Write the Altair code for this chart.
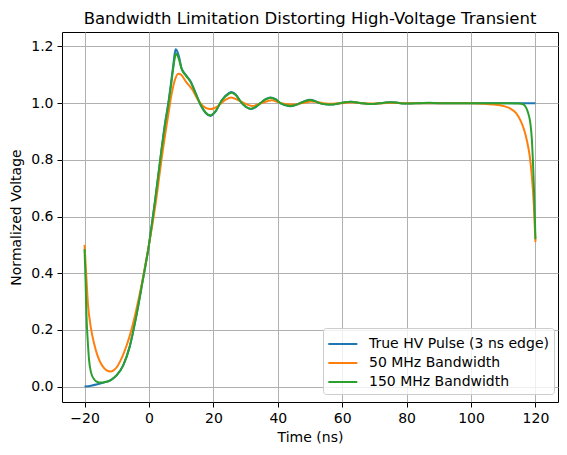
import altair as alt
import pandas as pd

SERIES = ["True HV Pulse (3 ns edge)", "50 MHz Bandwidth", "150 MHz Bandwidth"]
COLORS = ["#1f77b4", "#ff7f0e", "#2ca02c"]

true_t = [-20, -18, -16, -14, -12, -10, -8, -6, -4, -2, 0, 1, 2, 3, 4, 5, 6, 7, 7.5, 8,
          8.3, 8.7, 9.3, 10.1, 11.4, 12.9, 14.5, 16, 17.6, 19.1, 20.7, 22.7, 24.8, 25.5, 27,
          28.4, 30, 31.5, 33, 34.6, 36.2, 37.7, 39.3, 40.8, 42.4, 44, 45.5, 47, 48.5, 50,
          51.5, 53, 54.8, 56.5, 58, 59.5, 61, 62.5, 64, 66, 67.5, 69, 70.5, 72, 73.5, 75,
          76.5, 78, 80, 81.5, 84, 90, 100, 110, 120]
true_v = [0.000, 0.003, 0.008, 0.014, 0.022, 0.040, 0.075, 0.140, 0.245, 0.370, 0.500, 0.580,
          0.665, 0.755, 0.845, 0.930, 1.000, 1.085, 1.130, 1.175, 1.190, 1.185, 1.165, 1.124,
          1.100, 1.077, 1.035, 0.994, 0.965, 0.955, 0.971, 1.012, 1.035, 1.039, 1.030, 1.006,
          0.987, 0.979, 0.985, 1.000, 1.014, 1.020, 1.014, 1.000, 0.992, 0.989, 0.993, 1.000,
          1.008, 1.012, 1.008, 1.000, 0.996, 0.995, 0.997, 1.000, 1.003, 1.005, 1.003, 1.000,
          0.998, 0.997, 0.998, 1.000, 1.002, 1.003, 1.002, 1.000, 0.999, 0.999, 1.000, 1.000,
          1.000, 1.000, 1.000]

bw50_t = [-20, -19.5, -19, -18, -17, -16, -15, -14, -13, -12, -11, -10, -9, -8, -7, -6, -5,
          -4, -3, -2, -1, 0, 2, 4, 6, 7, 8, 9.1, 10, 11.4, 13.5, 15.5, 17.6, 19.1, 21.2, 23.8,
          25.5, 27.5, 29.5, 32, 35, 38, 41, 44.5, 47.5, 50.5, 54, 57, 60, 63, 66, 70, 75, 80,
          90, 100, 104, 107, 110, 112, 114, 115.3, 116.5, 117.3, 118.2, 118.9, 119.5, 120]
bw50_v = [0.500, 0.400, 0.300, 0.205, 0.150, 0.110, 0.083, 0.066, 0.056, 0.053, 0.057, 0.068,
          0.088, 0.113, 0.143, 0.178, 0.220, 0.268, 0.320, 0.375, 0.437, 0.500, 0.640, 0.810,
          0.960, 1.030, 1.080, 1.104, 1.100, 1.077, 1.047, 1.006, 0.983, 0.979, 0.988, 1.012,
          1.020, 1.012, 1.000, 0.990, 1.000, 1.010, 1.000, 0.995, 1.000, 1.006, 1.000, 0.998,
          1.000, 1.003, 1.000, 0.999, 1.001, 1.000, 1.000, 1.000, 0.998, 0.995, 0.990, 0.982,
          0.965, 0.940, 0.905, 0.870, 0.815, 0.740, 0.640, 0.510]

bw150_t = [-20, -19.7, -19.4, -19, -18.6, -18, -17, -16, -15, -14, -12, -10, -8, -6, -4, -2,
           0, 1, 2, 3, 4, 5, 6, 7, 7.5, 8, 8.4, 8.8, 9.3, 10.1, 11.4, 12.9, 14.5, 16, 17.6,
           19.1, 20.7, 22.7, 24.8, 25.5, 27, 28.4, 30, 31.5, 33, 34.6, 36.2, 37.7, 39.3, 40.8,
           42.4, 44, 45.5, 47, 48.5, 50, 51.5, 53, 54.8, 56.5, 58, 59.5, 61, 62.5, 64, 66,
           67.5, 69, 70.5, 72, 73.5, 75, 76.5, 78, 80, 84, 87, 90, 100, 110, 115, 116, 116.8,
           117.6, 118.4, 118.9, 119.2, 119.6, 120]
bw150_v = [0.485, 0.380, 0.250, 0.160, 0.094, 0.050, 0.025, 0.016, 0.014, 0.015, 0.022, 0.040,
           0.075, 0.140, 0.245, 0.370, 0.500, 0.580, 0.665, 0.755, 0.845, 0.925, 0.995, 1.075,
           1.120, 1.158, 1.175, 1.170, 1.155, 1.122, 1.098, 1.075, 1.034, 0.995, 0.967, 0.957,
           0.972, 1.011, 1.033, 1.037, 1.028, 1.006, 0.988, 0.980, 0.986, 1.000, 1.013, 1.019,
           1.013, 1.000, 0.993, 0.990, 0.994, 1.000, 1.007, 1.011, 1.007, 1.000, 0.996, 0.995,
           0.997, 1.000, 1.003, 1.005, 1.003, 1.000, 0.998, 0.997, 0.998, 1.000, 1.002, 1.003,
           1.002, 1.000, 0.999, 1.000, 1.001, 1.000, 1.000, 1.000, 0.999, 0.997, 0.990, 0.970,
           0.930, 0.870, 0.800, 0.680, 0.520]

x_ticks = [-20, 0, 20, 40, 60, 80, 100, 120]
y_ticks = [0.0, 0.2, 0.4, 0.6, 0.8, 1.0, 1.2]

frames = []
for name, ts, vs in [(SERIES[0], true_t, true_v), (SERIES[1], bw50_t, bw50_v), (SERIES[2], bw150_t, bw150_v)]:
    frames.append(pd.DataFrame({"t": ts, "v": vs, "series": name}))
df = pd.concat(frames, ignore_index=True)

FONT = "DejaVu Sans"

base = alt.Chart(df).mark_line(strokeWidth=2, interpolate="monotone").encode(
    x=alt.X("t:Q", scale=alt.Scale(domain=[-27, 127], nice=False, zero=False),
            axis=alt.Axis(values=x_ticks, title="Time (ns)", format="d")),
    y=alt.Y("v:Q", scale=alt.Scale(domain=[-0.0545, 1.251], nice=False, zero=False),
            axis=alt.Axis(values=y_ticks, title="Normalized Voltage", format=".1f")),
    color=alt.Color("series:N", scale=alt.Scale(domain=SERIES, range=COLORS),
                    legend=alt.Legend(title=None, orient="none", legendX=261, legendY=296,
                                      symbolType="M-1.07,0L1.83,0", symbolSize=400,
                                      symbolStrokeWidth=2, symbolFillColor="transparent",
                                      labelFontSize=14, labelFont=FONT, labelColor="black",
                                      labelLimit=400,
                                      fillColor="rgba(255,255,255,0.8)", strokeColor="#cccccc",
                                      padding=5, cornerRadius=3, rowPadding=1, labelOffset=19,
                                      symbolOpacity=1)),
)

layers = [base.transform_filter(alt.datum.series == s) for s in SERIES]

chart = alt.layer(*layers).properties(
    width=496, height=370,
    title=alt.TitleParams("Bandwidth Limitation Distorting High-Voltage Transient",
                          fontSize=16.5, font=FONT, fontWeight="normal", color="black",
                          anchor="middle", offset=5),
    autosize=alt.AutoSizeParams(type="none"),
    padding={"left": 54, "top": 24, "right": 1, "bottom": 50},
).configure_view(
    stroke="black", strokeWidth=1
).configure_axis(
    grid=True, gridColor="#b0b0b0", gridWidth=1, domain=False,
    ticks=True, tickColor="black", tickSize=5, tickWidth=1,
    labelFont=FONT, labelFontSize=14, labelColor="black", labelPadding=4,
    titleFont=FONT, titleFontSize=14, titleFontWeight="normal", titleColor="black",
).configure_axisX(titlePadding=5).configure_axisY(titlePadding=7)

chart.save("out.html", embed_options={"renderer": "svg", "actions": False})
